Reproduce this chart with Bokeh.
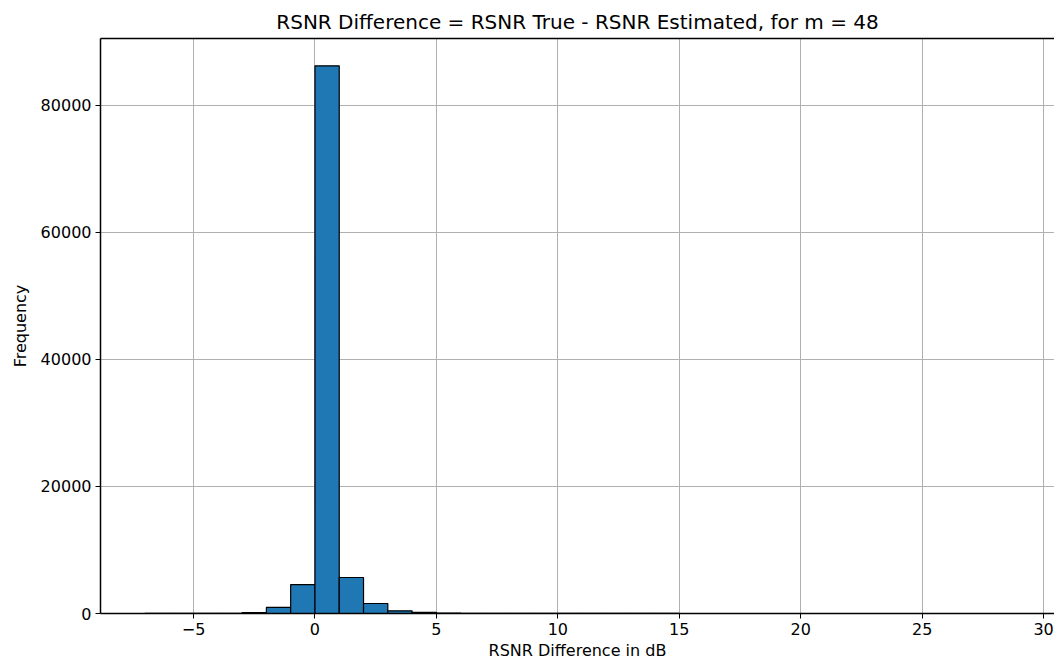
from bokeh.plotting import figure
from bokeh.models import Range1d, FixedTicker, LinearAxis
from bokeh.embed import file_html
from bokeh.resources import INLINE

# Histogram bins (left edges, width 1 dB) and counts
bin_left = list(range(-7, 29))
counts = [12, 6, 9, 25, 150, 950, 4560, 86200, 5670, 1570, 420, 170,
          70, 40, 25, 18, 12, 9, 7, 6, 5, 4, 3, 3, 2, 2, 2, 1, 1, 1, 1, 1,
          0, 1, 0, 1]
bin_right = [b + 1 for b in bin_left]
bottoms = [0] * len(counts)

x_ticks = [-5, 0, 5, 10, 15, 20, 25, 30]
y_ticks = [0, 20000, 40000, 60000, 80000]

FONT = "DejaVu Sans"

p = figure(width=1054, height=664, output_backend="svg", toolbar_location=None,
           x_range=Range1d(-8.83, 30.45), y_range=Range1d(0, 90500),
           min_border_left=100, min_border_right=0, min_border_top=38,
           min_border_bottom=51)

p.quad(left=bin_left, right=bin_right, bottom=bottoms, top=counts,
       fill_color="#1f77b4", line_color="black", line_width=1.2)

p.title.text = "RSNR Difference = RSNR True - RSNR Estimated, for m = 48"
p.title.align = "center"
p.title.text_font = FONT
p.title.text_font_size = "20px"
p.title.text_font_style = "normal"
p.title.text_color = "black"

p.xaxis.axis_label = "RSNR Difference in dB"
p.yaxis.axis_label = "Frequency"
for ax in (p.xaxis, p.yaxis):
    ax.axis_label_text_font = FONT
    ax.axis_label_text_font_size = "16px"
    ax.axis_label_text_font_style = "normal"
    ax.axis_label_text_color = "black"
    ax.major_label_text_font = FONT
    ax.major_label_text_font_size = "16px"
    ax.major_label_text_color = "black"
    ax.major_tick_in = 0
    ax.major_tick_out = 5
    ax.minor_tick_in = 0
    ax.minor_tick_out = 0
    ax.axis_line_color = "black"
    ax.axis_line_width = 1.5
    ax.major_tick_line_color = "black"

p.xaxis.ticker = FixedTicker(ticks=x_ticks)
p.yaxis.ticker = FixedTicker(ticks=y_ticks)
p.xaxis.major_label_overrides = {t: (str(t).replace("-", "\u2212")) for t in x_ticks}
p.yaxis.major_label_overrides = {t: str(t) for t in y_ticks}
p.xaxis.axis_label_standoff = 3
p.yaxis.axis_label_standoff = 8
p.xaxis.major_label_standoff = 4
p.yaxis.major_label_standoff = 4

# top spine only (right spine lies outside the cropped image)
top_spine = LinearAxis(ticker=FixedTicker(ticks=[]), major_label_text_font_size="0px",
                       major_tick_out=0, major_tick_in=0, minor_tick_out=0, minor_tick_in=0,
                       axis_line_color="black", axis_line_width=1.5)
p.add_layout(top_spine, "above")

p.xgrid.ticker = FixedTicker(ticks=x_ticks)
p.ygrid.ticker = FixedTicker(ticks=y_ticks)
p.grid.grid_line_color = "#b0b0b0"
p.grid.grid_line_width = 1

p.outline_line_color = None
p.background_fill_color = "white"
p.border_fill_color = "white"

open("out.html", "w").write(file_html(p, INLINE))
